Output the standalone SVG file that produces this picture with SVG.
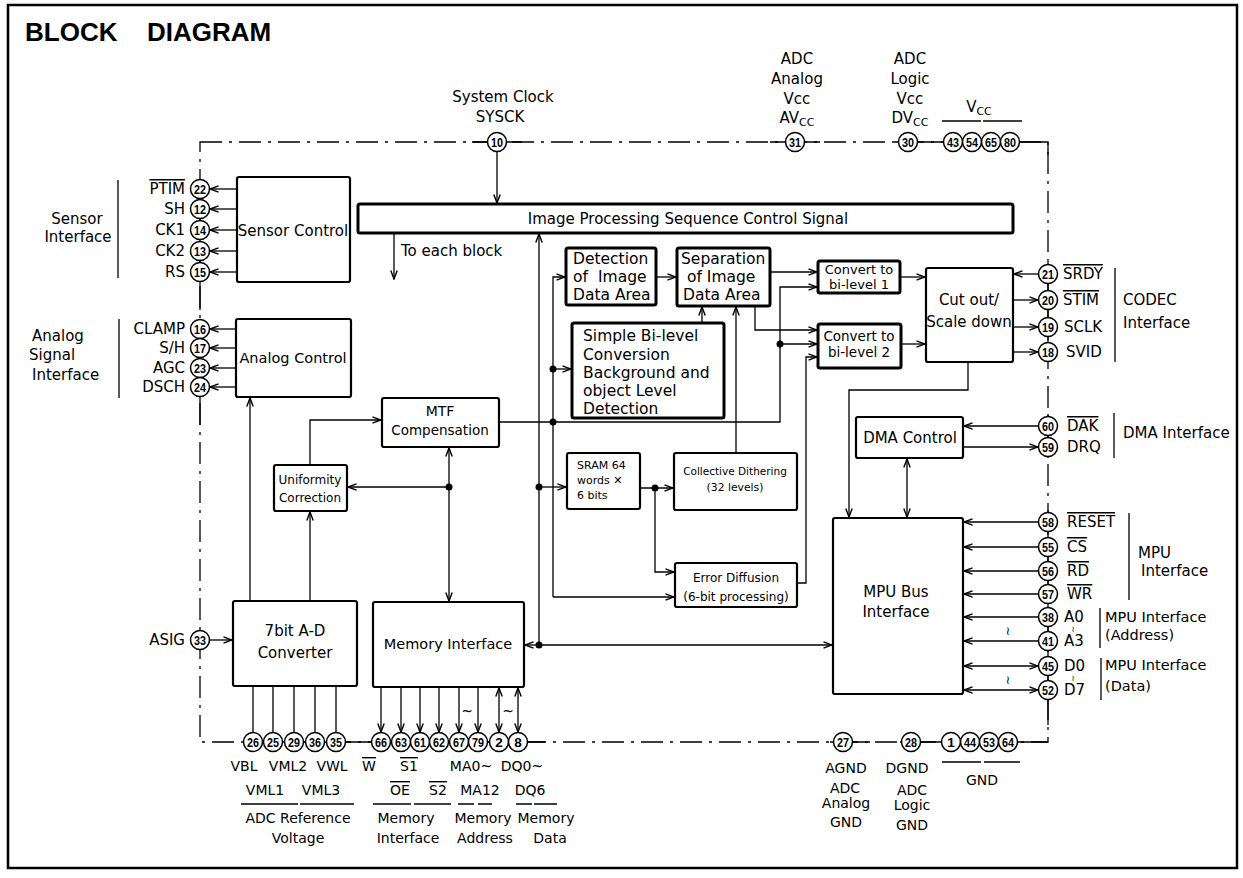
<svg xmlns="http://www.w3.org/2000/svg" width="1243" height="878" viewBox="0 0 1243 878">
<style>
.t{font-family:"DejaVu Sans",sans-serif;font-size:15px;fill:#000}
.s14{font-size:14px}
.s12{font-size:12px}
.s11{font-size:11px}
.s155{font-size:15.5px}
.s135{font-size:13.5px}
.s13{font-size:13px}
.m{text-anchor:middle}
.e{text-anchor:end}
.ov{text-decoration:overline}
.n{font-family:"Liberation Sans",sans-serif;font-size:13.5px;font-weight:bold;text-anchor:middle;fill:#000}
.ln{fill:none;stroke:#000;stroke-width:1.3}
.b{fill:#fff;stroke:#000;stroke-width:2.2}
.bb{fill:#fff;stroke:#000;stroke-width:3}
.pin{fill:#fff;stroke:#000;stroke-width:1.5}
.dd{fill:none;stroke:#000;stroke-width:1.3;stroke-dasharray:22 7 3 7}
.sl{fill:none;stroke:#000;stroke-width:1.3}
.dot{fill:#000}
.sub{font-size:11px}
</style>
<defs>
<marker id="a" viewBox="0 0 10 8" refX="9.5" refY="4" markerWidth="10" markerHeight="8" markerUnits="userSpaceOnUse" orient="auto-start-reverse">
<path d="M1,0.8 L9.5,4 L1,7.2" fill="none" stroke="#000" stroke-width="1.4"/>
</marker>
</defs>
<rect x="0" y="0" width="1243" height="878" fill="#fff"/>
<g id="frame">
<rect x="8" y="5" width="1229" height="863" fill="none" stroke="#000" stroke-width="2.5"/>
<text x="25" y="41" font-family="Liberation Sans, sans-serif" font-weight="bold" font-size="26">BLOCK</text>
<text x="147" y="41" font-family="Liberation Sans, sans-serif" font-weight="bold" font-size="26">DIAGRAM</text>
</g>
<g id="chip-boundary">
<path class="dd" d="M200,142 H1048 V742 H200 Z"/>
<path class="sl" d="M472,142H522 M770,142H820 M895,142H1048V155 M1048,262V362 M1048,414V458 M1048,510V725 M1048,742H1000 M900,742H960 M830,742H870 M243,742H545 M200,180V310 M200,320V425 M200,630V650"/>
</g>
<g id="connectors">
<g class="ln" marker-end="url(#a)">
<path d="M237,189H210"/><path d="M237,209H210"/><path d="M237,230H210"/><path d="M237,251H210"/><path d="M237,272H210"/>
<path d="M236,329H210"/><path d="M236,348H210"/><path d="M236,368H210"/><path d="M236,387H210"/>
<path d="M210,640H232"/>
<path d="M250,601V398"/>
<path d="M310,601V512"/>
<path d="M310,465V420H381"/>
<path d="M449,487H348"/>
<path d="M497,152V203"/>
<path d="M394,234V279"/>
<path d="M539,645V234"/>
<path d="M539,487H566"/>
<path d="M539,645H525"/>
<path d="M539,645H832"/>
<path d="M553,597V277H565"/>
<path d="M553,597H674"/>
<path d="M553,369H571"/>
<path d="M499,422H780V287H817"/>
<path d="M780,344H817"/>
<path d="M656,277H676"/>
<path d="M770,272H817"/>
<path d="M755,306V330H817"/>
<path d="M702,323V307"/>
<path d="M736,453V307"/>
<path d="M640,488H673"/>
<path d="M655,488V572H674"/>
<path d="M797,583H806V357H817"/>
<path d="M900,277H925"/>
<path d="M900,344H925"/>
<path d="M1038,274H1014"/>
<path d="M1013,300H1038"/><path d="M1013,327H1038"/><path d="M1013,352H1038"/>
<path d="M968,362V390H849V517"/>
<path d="M1038,426H964"/>
<path d="M963,447H1038"/>
<path d="M1038,522H964"/><path d="M1038,547H964"/><path d="M1038,571H964"/><path d="M1038,594H964"/><path d="M1038,617H964"/><path d="M1038,641H964"/>
<path d="M381,687V732"/><path d="M401,687V732"/><path d="M420,687V732"/><path d="M439,687V732"/><path d="M459,687V732"/><path d="M478,687V732"/>
</g>
<g class="ln" marker-start="url(#a)" marker-end="url(#a)">
<path d="M449,448V601"/>
<path d="M907,459V517"/>
<path d="M964,666H1038"/><path d="M964,690H1038"/>
<path d="M499,688V732"/><path d="M518,688V732"/>
</g>
<path class="ln" d="M253,686V733 M273,686V733 M294,686V733 M315,686V733 M336,686V733"/>
<circle class="dot" cx="449" cy="487" r="3.5"/>
<circle class="dot" cx="539" cy="487" r="3.5"/>
<circle class="dot" cx="539" cy="645" r="3.5"/>
<circle class="dot" cx="553" cy="369" r="3.5"/>
<circle class="dot" cx="553" cy="422" r="3.5"/>
<circle class="dot" cx="780" cy="344" r="3.5"/>
<circle class="dot" cx="655" cy="488" r="3.5"/>
<text x="401" y="256" class="t">To each block</text>
<text x="467" y="716" class="t m s14">~</text>
<text x="508" y="716" class="t m s14">~</text>
<text x="1008" y="635" class="t m s12">≀</text>
<text x="1008" y="684" class="t m s12">≀</text>
</g>
<g id="image-bar">
<rect class="bb" x="358" y="204" width="655" height="29" rx="2"/>
<text x="688" y="224" class="t m">Image Processing Sequence Control Signal</text>
</g>
<g id="sensor-control">
<rect class="b" x="237" y="177" width="113" height="105" rx="2"/>
<text x="293" y="236" class="t m">Sensor Control</text>
</g>
<g id="analog-control">
<rect class="b" x="236" y="319" width="115" height="78" rx="2"/>
<text x="293" y="363" class="t m" style="font-size:14.5px">Analog Control</text>
</g>
<g id="uniformity">
<rect class="b" x="274" y="465" width="73" height="46" rx="2"/>
<text x="310" y="484" class="t m s12">Uniformity</text>
<text x="310" y="502" class="t m s12">Correction</text>
</g>
<g id="mtf">
<rect class="b" x="382" y="398" width="117" height="49" rx="2"/>
<text x="440" y="416" class="t m s14">MTF</text>
<text x="440" y="435" class="t m s135">Compensation</text>
</g>
<g id="adc">
<rect class="b" x="233" y="601" width="124" height="85" rx="2"/>
<text x="295" y="636" class="t m">7bit A-D</text>
<text x="295" y="658" class="t m">Converter</text>
</g>
<g id="memory-interface">
<rect class="b" x="373" y="602" width="151" height="85" rx="2"/>
<text x="448" y="649" class="t m" style="font-size:14.5px">Memory Interface</text>
</g>
<g id="detection">
<rect class="bb" x="566" y="248" width="90" height="57" rx="2"/>
<text x="573" y="264" class="t s155">Detection</text>
<text x="573" y="282" class="t s155">of</text>
<text x="598" y="282" class="t s155">Image</text>
<text x="573" y="300" class="t s155">Data Area</text>
</g>
<g id="separation">
<rect class="bb" x="677" y="248" width="93" height="58" rx="2"/>
<text x="681" y="264" class="t s155">Separation</text>
<text x="687" y="282" class="t s155">of Image</text>
<text x="683" y="300" class="t s155">Data Area</text>
</g>
<g id="simple-bilevel">
<rect class="bb" x="572" y="323" width="152" height="95" rx="2"/>
<text x="583" y="341" class="t s155">Simple Bi-level</text>
<text x="583" y="360" class="t s155">Conversion</text>
<text x="583" y="378" class="t s155">Background and</text>
<text x="583" y="396" class="t s155">object Level</text>
<text x="583" y="414" class="t s155">Detection</text>
</g>
<g id="convert1">
<rect class="bb" x="818" y="261" width="82" height="32" rx="2"/>
<text x="859" y="274" class="t m s13">Convert to</text>
<text x="859" y="289" class="t m s13">bi-level 1</text>
</g>
<g id="convert2">
<rect class="bb" x="818" y="324" width="83" height="44" rx="2"/>
<text x="859" y="341" class="t m s135">Convert to</text>
<text x="859" y="357" class="t m s135">bi-level 2</text>
</g>
<g id="cut-out">
<rect class="b" x="926" y="268" width="87" height="94" rx="2"/>
<text x="969" y="305" class="t m">Cut out/</text>
<text x="969" y="327" class="t m">Scale down</text>
</g>
<g id="sram">
<rect class="b" x="567" y="453" width="73" height="56" rx="2"/>
<text x="577" y="469" class="t s11">SRAM 64</text>
<text x="577" y="484" class="t s11">words ✕</text>
<text x="577" y="499" class="t s11">6 bits</text>
</g>
<g id="collective-dithering">
<rect class="b" x="674" y="453" width="123" height="57" rx="2"/>
<text x="735" y="475" class="t m" style="font-size:10.5px">Collective Dithering</text>
<text x="735" y="491" class="t m" style="font-size:10.8px">(32 levels)</text>
</g>
<g id="error-diffusion">
<rect class="b" x="675" y="563" width="122" height="44" rx="2"/>
<text x="736" y="582" class="t m s12">Error Diffusion</text>
<text x="736" y="601" class="t m s12">(6-bit processing)</text>
</g>
<g id="dma-control">
<rect class="b" x="856" y="417" width="107" height="41" rx="2"/>
<text x="910" y="443" class="t m">DMA Control</text>
</g>
<g id="mpu-bus">
<rect class="b" x="833" y="518" width="130" height="176" rx="2"/>
<text x="896" y="597" class="t m">MPU Bus</text>
<text x="896" y="617" class="t m">Interface</text>
</g>
<g id="pins-left">
<circle class="pin" cx="200" cy="189" r="9.5"/><text class="n" x="200" y="194" textLength="12" lengthAdjust="spacingAndGlyphs">22</text>
<circle class="pin" cx="200" cy="209" r="9.5"/><text class="n" x="200" y="214" textLength="12" lengthAdjust="spacingAndGlyphs">12</text>
<circle class="pin" cx="200" cy="230" r="9.5"/><text class="n" x="200" y="235" textLength="12" lengthAdjust="spacingAndGlyphs">14</text>
<circle class="pin" cx="200" cy="251" r="9.5"/><text class="n" x="200" y="256" textLength="12" lengthAdjust="spacingAndGlyphs">13</text>
<circle class="pin" cx="200" cy="272" r="9.5"/><text class="n" x="200" y="277" textLength="12" lengthAdjust="spacingAndGlyphs">15</text>
<circle class="pin" cx="200" cy="329" r="9.5"/><text class="n" x="200" y="334" textLength="12" lengthAdjust="spacingAndGlyphs">16</text>
<circle class="pin" cx="200" cy="348" r="9.5"/><text class="n" x="200" y="353" textLength="12" lengthAdjust="spacingAndGlyphs">17</text>
<circle class="pin" cx="200" cy="368" r="9.5"/><text class="n" x="200" y="373" textLength="12" lengthAdjust="spacingAndGlyphs">23</text>
<circle class="pin" cx="200" cy="387" r="9.5"/><text class="n" x="200" y="392" textLength="12" lengthAdjust="spacingAndGlyphs">24</text>
<circle class="pin" cx="200" cy="640" r="9.5"/><text class="n" x="200" y="645" textLength="12" lengthAdjust="spacingAndGlyphs">33</text>
<text x="185" y="194" class="t e ov">PTIM</text>
<text x="185" y="214" class="t e">SH</text>
<text x="185" y="235" class="t e">CK1</text>
<text x="185" y="256" class="t e">CK2</text>
<text x="185" y="277" class="t e">RS</text>
<text x="185" y="334" class="t e">CLAMP</text>
<text x="185" y="353" class="t e">S/H</text>
<text x="185" y="373" class="t e">AGC</text>
<text x="185" y="392" class="t e">DSCH</text>
<text x="185" y="645" class="t e">ASIG</text>
<path class="sl" d="M118,180V278 M119,319V398"/>
<text x="77" y="224" class="t m">Sensor</text>
<text x="78" y="242" class="t m">Interface</text>
<text x="32" y="341" class="t">Analog</text>
<text x="29" y="360" class="t">Signal</text>
<text x="32" y="380" class="t">Interface</text>
</g>
<g id="pins-top">
<circle class="pin" cx="497" cy="142" r="9.5"/><text class="n" x="497" y="147" textLength="12" lengthAdjust="spacingAndGlyphs">10</text>
<circle class="pin" cx="795" cy="142" r="9.5"/><text class="n" x="795" y="147" textLength="12" lengthAdjust="spacingAndGlyphs">31</text>
<circle class="pin" cx="908" cy="142" r="9.5"/><text class="n" x="908" y="147" textLength="12" lengthAdjust="spacingAndGlyphs">30</text>
<circle class="pin" cx="953" cy="142" r="9.5"/><text class="n" x="953" y="147" textLength="12" lengthAdjust="spacingAndGlyphs">43</text>
<circle class="pin" cx="972" cy="142" r="9.5"/><text class="n" x="972" y="147" textLength="12" lengthAdjust="spacingAndGlyphs">54</text>
<circle class="pin" cx="991" cy="142" r="9.5"/><text class="n" x="991" y="147" textLength="12" lengthAdjust="spacingAndGlyphs">65</text>
<circle class="pin" cx="1010" cy="142" r="9.5"/><text class="n" x="1010" y="147" textLength="12" lengthAdjust="spacingAndGlyphs">80</text>
<text x="503" y="102" class="t m">System Clock</text>
<text x="500" y="122" class="t m">SYSCK</text>
<text x="797" y="64" class="t m">ADC</text>
<text x="797" y="84" class="t m">Analog</text>
<text x="797" y="104" class="t m">Vcc</text>
<text x="797" y="123" class="t m">AV<tspan class="sub" dy="3">CC</tspan></text>
<text x="910" y="64" class="t m">ADC</text>
<text x="910" y="84" class="t m">Logic</text>
<text x="910" y="104" class="t m">Vcc</text>
<text x="910" y="123" class="t m">DV<tspan class="sub" dy="3">CC</tspan></text>
<text x="979" y="112" class="t m">V<tspan class="sub" dy="3">CC</tspan></text>
<path class="sl" d="M942,121H981 M983,121H1022"/>
</g>
<g id="pins-right">
<circle class="pin" cx="1048" cy="274" r="9.5"/><text class="n" x="1048" y="279" textLength="12" lengthAdjust="spacingAndGlyphs">21</text>
<circle class="pin" cx="1048" cy="300" r="9.5"/><text class="n" x="1048" y="305" textLength="12" lengthAdjust="spacingAndGlyphs">20</text>
<circle class="pin" cx="1048" cy="327" r="9.5"/><text class="n" x="1048" y="332" textLength="12" lengthAdjust="spacingAndGlyphs">19</text>
<circle class="pin" cx="1048" cy="352" r="9.5"/><text class="n" x="1048" y="357" textLength="12" lengthAdjust="spacingAndGlyphs">18</text>
<circle class="pin" cx="1048" cy="426" r="9.5"/><text class="n" x="1048" y="431" textLength="12" lengthAdjust="spacingAndGlyphs">60</text>
<circle class="pin" cx="1048" cy="447" r="9.5"/><text class="n" x="1048" y="452" textLength="12" lengthAdjust="spacingAndGlyphs">59</text>
<circle class="pin" cx="1048" cy="522" r="9.5"/><text class="n" x="1048" y="527" textLength="12" lengthAdjust="spacingAndGlyphs">58</text>
<circle class="pin" cx="1048" cy="547" r="9.5"/><text class="n" x="1048" y="552" textLength="12" lengthAdjust="spacingAndGlyphs">55</text>
<circle class="pin" cx="1048" cy="571" r="9.5"/><text class="n" x="1048" y="576" textLength="12" lengthAdjust="spacingAndGlyphs">56</text>
<circle class="pin" cx="1048" cy="594" r="9.5"/><text class="n" x="1048" y="599" textLength="12" lengthAdjust="spacingAndGlyphs">57</text>
<circle class="pin" cx="1048" cy="617" r="9.5"/><text class="n" x="1048" y="622" textLength="12" lengthAdjust="spacingAndGlyphs">38</text>
<circle class="pin" cx="1048" cy="641" r="9.5"/><text class="n" x="1048" y="646" textLength="12" lengthAdjust="spacingAndGlyphs">41</text>
<circle class="pin" cx="1048" cy="666" r="9.5"/><text class="n" x="1048" y="671" textLength="12" lengthAdjust="spacingAndGlyphs">45</text>
<circle class="pin" cx="1048" cy="690" r="9.5"/><text class="n" x="1048" y="695" textLength="12" lengthAdjust="spacingAndGlyphs">52</text>
<text x="1063" y="279" class="t ov">SRDY</text>
<text x="1063" y="305" class="t ov">STIM</text>
<text x="1064" y="332" class="t">SCLK</text>
<text x="1066" y="357" class="t">SVID</text>
<text x="1067" y="431" class="t ov">DAK</text>
<text x="1067" y="452" class="t">DRQ</text>
<text x="1067" y="527" class="t ov">RESET</text>
<text x="1067" y="552" class="t ov">CS</text>
<text x="1067" y="576" class="t ov">RD</text>
<text x="1067" y="599" class="t ov">WR</text>
<text x="1064" y="622" class="t">A0</text>
<text x="1064" y="646" class="t">A3</text>
<text x="1064" y="671" class="t">D0</text>
<text x="1064" y="695" class="t">D7</text>
<text x="1073" y="632" class="t m" style="font-size:8px">≀</text>
<text x="1073" y="681" class="t m" style="font-size:8px">≀</text>
<path class="sl" d="M1115,268V362 M1114,413V458 M1129,513V600 M1100,608V648 M1101,658V700"/>
<text x="1123" y="305" class="t">CODEC</text>
<text x="1123" y="328" class="t">Interface</text>
<text x="1123" y="438" class="t">DMA Interface</text>
<text x="1138" y="558" class="t">MPU</text>
<text x="1141" y="576" class="t">Interface</text>
<text x="1105" y="622" class="t" style="font-size:14.5px">MPU Interface</text>
<text x="1105" y="640" class="t" style="font-size:14.5px">(Address)</text>
<text x="1105" y="670" class="t" style="font-size:14.5px">MPU Interface</text>
<text x="1105" y="691" class="t" style="font-size:14.5px">(Data)</text>
</g>
<g id="pins-bottom">
<circle class="pin" cx="253" cy="742" r="9.5"/><text class="n" x="253" y="747" textLength="12" lengthAdjust="spacingAndGlyphs">26</text>
<circle class="pin" cx="273" cy="742" r="9.5"/><text class="n" x="273" y="747" textLength="12" lengthAdjust="spacingAndGlyphs">25</text>
<circle class="pin" cx="294" cy="742" r="9.5"/><text class="n" x="294" y="747" textLength="12" lengthAdjust="spacingAndGlyphs">29</text>
<circle class="pin" cx="315" cy="742" r="9.5"/><text class="n" x="315" y="747" textLength="12" lengthAdjust="spacingAndGlyphs">36</text>
<circle class="pin" cx="336" cy="742" r="9.5"/><text class="n" x="336" y="747" textLength="12" lengthAdjust="spacingAndGlyphs">35</text>
<circle class="pin" cx="381" cy="742" r="9.5"/><text class="n" x="381" y="747" textLength="12" lengthAdjust="spacingAndGlyphs">66</text>
<circle class="pin" cx="401" cy="742" r="9.5"/><text class="n" x="401" y="747" textLength="12" lengthAdjust="spacingAndGlyphs">63</text>
<circle class="pin" cx="420" cy="742" r="9.5"/><text class="n" x="420" y="747" textLength="12" lengthAdjust="spacingAndGlyphs">61</text>
<circle class="pin" cx="439" cy="742" r="9.5"/><text class="n" x="439" y="747" textLength="12" lengthAdjust="spacingAndGlyphs">62</text>
<circle class="pin" cx="459" cy="742" r="9.5"/><text class="n" x="459" y="747" textLength="12" lengthAdjust="spacingAndGlyphs">67</text>
<circle class="pin" cx="478" cy="742" r="9.5"/><text class="n" x="478" y="747" textLength="12" lengthAdjust="spacingAndGlyphs">79</text>
<circle class="pin" cx="499" cy="742" r="9.5"/><text class="n" x="499" y="747">2</text>
<circle class="pin" cx="518" cy="742" r="9.5"/><text class="n" x="518" y="747">8</text>
<circle class="pin" cx="843" cy="742" r="9.5"/><text class="n" x="843" y="747" textLength="12" lengthAdjust="spacingAndGlyphs">27</text>
<circle class="pin" cx="911" cy="742" r="9.5"/><text class="n" x="911" y="747" textLength="12" lengthAdjust="spacingAndGlyphs">28</text>
<circle class="pin" cx="951" cy="742" r="9.5"/><text class="n" x="951" y="747">1</text>
<circle class="pin" cx="970" cy="742" r="9.5"/><text class="n" x="970" y="747" textLength="12" lengthAdjust="spacingAndGlyphs">44</text>
<circle class="pin" cx="989" cy="742" r="9.5"/><text class="n" x="989" y="747" textLength="12" lengthAdjust="spacingAndGlyphs">53</text>
<circle class="pin" cx="1008" cy="742" r="9.5"/><text class="n" x="1008" y="747" textLength="12" lengthAdjust="spacingAndGlyphs">64</text>
<g class="t m s14">
<text x="244" y="771">VBL</text>
<text x="288" y="771">VML2</text>
<text x="332" y="771">VWL</text>
<text x="369" y="771" class="ov">W</text>
<text x="409" y="771" class="ov">S1</text>
<text x="471" y="771">MA0~</text>
<text x="522" y="771">DQ0~</text>
<text x="265" y="795">VML1</text>
<text x="321" y="795">VML3</text>
<text x="400" y="795" class="ov">OE</text>
<text x="438" y="795" class="ov">S2</text>
<text x="480" y="795">MA12</text>
<text x="530" y="795">DQ6</text>
<text x="298" y="823">ADC Reference</text>
<text x="298" y="843">Voltage</text>
<text x="406" y="823">Memory</text>
<text x="408" y="843">Interface</text>
<text x="483" y="823">Memory</text>
<text x="485" y="843">Address</text>
<text x="546" y="823">Memory</text>
<text x="550" y="843">Data</text>
<text x="846" y="773">AGND</text>
<text x="845" y="793">ADC</text>
<text x="846" y="808">Analog</text>
<text x="846" y="827">GND</text>
<text x="907" y="773">DGND</text>
<text x="912" y="795">ADC</text>
<text x="912" y="810">Logic</text>
<text x="912" y="830">GND</text>
<text x="982" y="785">GND</text>
</g>
<path class="sl" d="M241,804H298 M300,804H354 M373,804H411 M414,804H451 M458,804H474 M478,804H492 M516,804H532 M534,804H557 M942,762H981 M984,762H1020"/>
</g>
</svg>
